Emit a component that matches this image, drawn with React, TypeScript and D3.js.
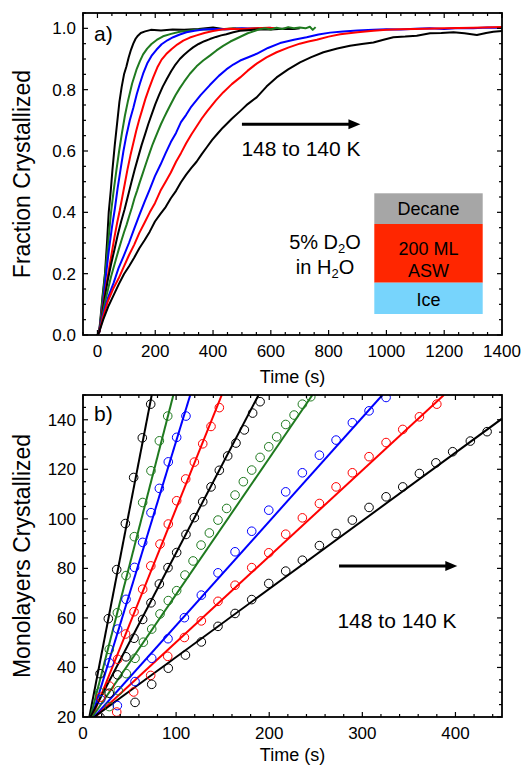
import React from "react";
import * as d3 from "d3";

// ---- Panel a: fraction crystallized vs time, nine runs (148 K → 140 K) ----
const fracRun1: [number, number][] = [
  [0, 0], [6, 0.01], [12, 0.07], [18, 0.13], [26, 0.2], [33, 0.3], [39, 0.4], [46, 0.47],
  [52, 0.54], [60, 0.62], [68, 0.69], [76, 0.76], [84, 0.81], [92, 0.85], [100, 0.875],
  [108, 0.905], [116, 0.93], [124, 0.95], [132, 0.966], [140, 0.976], [150, 0.985],
  [165, 0.99], [185, 0.995], [220, 0.993], [260, 0.996], [300, 0.995], [350, 0.998],
  [400, 1.003], [440, 0.997], [480, 0.999],
];
const fracRun2: [number, number][] = [
  [0, 0], [6, 0.01], [12, 0.06], [18, 0.12], [27, 0.2], [37, 0.3], [47, 0.4], [56, 0.47],
  [66, 0.54], [75, 0.6], [85, 0.66], [95, 0.715], [106, 0.765], [120, 0.82], [135, 0.865],
  [147, 0.893], [158, 0.915], [172, 0.934], [187, 0.949], [205, 0.962], [227, 0.974],
  [255, 0.982], [285, 0.989], [315, 0.992], [343, 0.995], [380, 0.997], [420, 0.996],
  [470, 1.0], [520, 0.998], [560, 1.001],
];
const fracRun3: [number, number][] = [
  [0, 0], [6, 0.01], [13, 0.06], [20, 0.11], [30, 0.2], [40, 0.28], [50, 0.35], [60, 0.41],
  [70, 0.48], [80, 0.54], [90, 0.6], [100, 0.65], [112, 0.7], [124, 0.74], [136, 0.785],
  [147, 0.82], [158, 0.852], [172, 0.885], [187, 0.91], [204, 0.93], [222, 0.948],
  [242, 0.961], [262, 0.971], [285, 0.98], [308, 0.987], [336, 0.992], [366, 0.996],
  [400, 0.998], [450, 0.997], [500, 1.0], [550, 0.999], [600, 1.002],
];
const fracRun4: [number, number][] = [
  [0, 0], [6, 0.01], [14, 0.06], [22, 0.11], [32, 0.17], [41, 0.22], [50, 0.27], [59, 0.32],
  [68, 0.365], [77, 0.405], [86, 0.45], [95, 0.495], [104, 0.54], [114, 0.585], [124, 0.625],
  [134, 0.665], [144, 0.7], [155, 0.735], [166, 0.77], [179, 0.805], [193, 0.84],
  [207, 0.872], [222, 0.898], [238, 0.916], [256, 0.932], [276, 0.947], [297, 0.96],
  [320, 0.97], [343, 0.977], [370, 0.985], [400, 0.991], [430, 0.996], [458, 0.999],
  [500, 0.998], [550, 1.0], [590, 1.002], [620, 1.0],
];
const fracRun5: [number, number][] = [
  [0, 0], [6, 0.01], [15, 0.06], [25, 0.12], [36, 0.18], [47, 0.23], [58, 0.275], [70, 0.325],
  [82, 0.37], [94, 0.41], [106, 0.455], [118, 0.5], [129, 0.54], [141, 0.58], [153, 0.62],
  [165, 0.655], [176, 0.688], [188, 0.72], [200, 0.752], [213, 0.782], [226, 0.81],
  [240, 0.835], [255, 0.86], [270, 0.882], [285, 0.9], [300, 0.914], [316, 0.927],
  [331, 0.938], [350, 0.949], [370, 0.958], [389, 0.965], [410, 0.972], [428, 0.977],
  [446, 0.981], [470, 0.987], [493, 0.992], [520, 0.994], [560, 0.997], [600, 0.996],
  [640, 0.999], [680, 0.998], [700, 1.0],
];
const fracRun6: [number, number][] = [
  [0, 0], [6, 0.01], [16, 0.06], [28, 0.115], [38, 0.155], [47, 0.19], [56, 0.22], [65, 0.25],
  [74, 0.28], [83, 0.308], [92, 0.335], [101, 0.36], [110, 0.388], [119, 0.415], [128, 0.445],
  [137, 0.47], [146, 0.497], [155, 0.522], [164, 0.548], [173, 0.573], [182, 0.598],
  [191, 0.622], [200, 0.643], [210, 0.666], [220, 0.688], [230, 0.708], [240, 0.727],
  [255, 0.755], [270, 0.782], [285, 0.805], [300, 0.826], [320, 0.852], [343, 0.876],
  [366, 0.895], [389, 0.911], [412, 0.928], [435, 0.943], [460, 0.957], [480, 0.966],
  [500, 0.975], [520, 0.984], [540, 0.99], [560, 0.997], [580, 1.0], [600, 0.996],
  [620, 1.002], [640, 0.998], [660, 1.004], [680, 1.0], [700, 1.003], [720, 1.0],
  [735, 1.005], [745, 0.995], [755, 1.004],
];
const fracRun7: [number, number][] = [
  [0, 0], [6, 0.01], [18, 0.06], [28, 0.095], [37, 0.123], [56, 0.17], [73, 0.218], [91, 0.258],
  [109, 0.3], [127, 0.346], [145, 0.391], [163, 0.434], [181, 0.475], [199, 0.518],
  [218, 0.555], [236, 0.593], [254, 0.629], [272, 0.659], [289, 0.694], [307, 0.718],
  [325, 0.745], [357, 0.782], [389, 0.815], [420, 0.845], [446, 0.866], [470, 0.882],
  [494, 0.895], [520, 0.905], [551, 0.917], [590, 0.936], [632, 0.952], [680, 0.963],
  [724, 0.971], [765, 0.98], [805, 0.986], [850, 0.99], [900, 0.993], [955, 0.995],
  [1000, 0.997], [1050, 0.996], [1100, 0.999], [1150, 1.0], [1200, 0.998], [1250, 1.001],
  [1300, 1.0], [1350, 1.003], [1400, 1.002],
];
const fracRun8: [number, number][] = [
  [0, 0], [6, 0.01], [20, 0.06], [36, 0.11], [54, 0.15], [73, 0.184], [91, 0.222], [109, 0.26],
  [127, 0.294], [145, 0.333], [163, 0.366], [181, 0.4], [199, 0.43], [218, 0.47], [236, 0.5],
  [254, 0.53], [272, 0.565], [289, 0.593], [307, 0.625], [325, 0.654], [343, 0.68],
  [361, 0.706], [380, 0.73], [410, 0.765], [435, 0.791], [465, 0.818], [494, 0.84],
  [520, 0.862], [551, 0.885], [585, 0.905], [620, 0.922], [660, 0.937], [700, 0.95],
  [730, 0.957], [759, 0.963], [800, 0.973], [840, 0.981], [900, 0.987], [955, 0.992],
  [1000, 0.995], [1050, 0.997], [1100, 0.998], [1200, 1.0], [1300, 1.002], [1400, 1.004],
];
const fracRun9: [number, number][] = [
  [0, 0], [6, 0.01], [20, 0.05], [37, 0.092], [56, 0.13], [74, 0.166], [92, 0.199], [110, 0.225],
  [127, 0.252], [145, 0.283], [163, 0.309], [181, 0.337], [199, 0.37], [218, 0.395],
  [236, 0.417], [254, 0.446], [272, 0.47], [289, 0.498], [307, 0.523], [325, 0.545],
  [343, 0.565], [361, 0.59], [379, 0.613], [397, 0.636], [416, 0.657], [434, 0.676],
  [465, 0.705], [494, 0.73], [520, 0.753], [551, 0.775], [585, 0.81], [620, 0.84],
  [660, 0.866], [701, 0.889], [740, 0.906], [782, 0.922], [830, 0.934], [874, 0.943],
  [915, 0.949], [955, 0.954], [990, 0.963], [1024, 0.971], [1065, 0.973], [1105, 0.976],
  [1151, 0.984], [1190, 0.985], [1232, 0.987], [1270, 0.984], [1313, 0.978], [1345, 0.985],
  [1370, 0.989], [1400, 0.991],
];
const fracRuns = [fracRun1, fracRun2, fracRun3, fracRun4, fracRun5, fracRun6, fracRun7, fracRun8, fracRun9];

// ---- Panel b: monolayers crystallized (points) and linear fits ----
const mlRun1: [number, number][] = [
  [18.3, 37.5], [27.2, 59.7], [36.2, 79.5], [45.5, 98.1], [54.4, 116.7], [63.7, 132.7], [72.7, 146.3],
];
const mlRun2: [number, number][] = [
  [18, 30], [28.2, 47.3], [36.9, 62.1], [46.2, 77.1], [55.1, 92.8], [64.1, 106.6], [73, 119.4],
  [82, 131.5], [91, 141.5],
];
const mlRun3: [number, number][] = [
  [19, 27], [28.2, 41.9], [37.2, 55.5], [46.2, 67.5], [55.4, 80.4], [64.1, 90.5], [73, 102.5],
  [82, 112.3], [91.6, 123], [100.6, 132.9], [110.6, 141.5],
];
const mlRun4: [number, number][] = [
  [19, 28], [28.5, 32.5], [37.2, 43.3], [45.7, 53.5], [54.8, 62.5], [64.1, 71.6], [72.8, 81],
  [82.7, 89.8], [91.6, 97.9], [100.6, 107.3], [110.3, 116.1], [119.6, 122.9], [128.6, 130.3],
  [137.5, 137.3], [146.4, 144.9],
];
const mlRun5: [number, number][] = [
  [28.2, 29.6], [37.2, 37], [46.2, 44.3], [54.8, 51.8], [64.1, 59.4], [73, 66.1], [82, 73.7],
  [91.3, 80.3], [100.6, 86.4], [110.6, 93.7], [119.6, 100.5], [128.6, 106.9], [137.5, 112.9],
  [146.4, 119.6], [155.4, 125.4], [164.3, 130.6], [173.3, 135.9], [182.2, 142.7], [190.2, 147.3],
];
const mlRun6: [number, number][] = [
  [28.2, 24.2], [37.9, 30.6], [46.5, 37.5], [55.9, 43.7], [64.8, 50.2], [73.8, 55.5], [82.7, 61.6],
  [91.6, 67], [100.6, 71], [109.5, 77.3], [118.2, 83], [126.8, 89.4], [135.7, 94.3], [145, 99.5],
  [154.3, 104.2], [163.3, 109.6], [172.2, 115], [181.2, 119.7], [190.2, 124.8], [199.5, 129.1],
  [208, 133.1], [217.7, 138.1], [226.7, 141.9], [235.6, 146.3], [244.6, 149.3],
];
const mlRun7: [number, number][] = [
  [36.9, 24.6], [55.9, 34.3], [73.8, 43.7], [91.3, 51.6], [108.9, 60.1], [127.1, 69.2], [145, 78.2],
  [163.3, 86.7], [181.2, 95], [199.5, 103.5], [217.7, 110.9], [235.6, 118.6], [253.9, 125.7],
  [271.8, 131.8], [289.3, 138.8], [307.2, 143.6], [325.5, 149],
];
const mlRun8: [number, number][] = [
  [36.2, 22], [54.4, 30.1], [72.7, 36.8], [91, 44.5], [108.9, 52.1], [127.1, 58.8], [145, 66.7],
  [163.3, 73.2], [181.2, 80.3], [199.5, 86.3], [217.7, 93.8], [235.6, 100.4], [253.9, 106.2],
  [271.8, 112.9], [289.3, 118.6], [307.2, 125.1], [325.5, 130.8], [343.4, 136.1], [361.3, 141.2],
  [380, 146.3],
];
const mlRun9: [number, number][] = [
  [18.3, 19.9], [55.9, 25.9], [73.8, 33.2], [91.6, 39.7], [110, 45], [127.1, 50.3], [145, 56.6],
  [163.3, 61.8], [181.2, 67.4], [199.5, 73.9], [217.7, 78.9], [235.6, 83.3], [253.9, 89.2],
  [271.8, 94.1], [289.3, 99.5], [307.2, 104.6], [325.5, 108.9], [343.4, 112.9], [361.3, 118.3],
  [379, 122.6], [397, 127.1], [416, 131.4], [434, 135.2],
];
const mlRuns = [mlRun1, mlRun2, mlRun3, mlRun4, mlRun5, mlRun6, mlRun7, mlRun8, mlRun9];

// Linear fits: time at which 20 ML is reached, and growth rate (ML/s)
const fitOnset = [6.8, 8, 9.5, 10, 8, 10, 12, 13, 12];
const fitRate = [1.94, 1.46, 1.23, 0.935, 0.72, 0.55, 0.42, 0.347, 0.275];

// Axis tick values
const aXMajor = [0, 200, 400, 600, 800, 1000, 1200, 1400];
const aYMajor = [0, 0.2, 0.4, 0.6, 0.8, 1.0];
const bXMajor = [0, 100, 200, 300, 400];
const bYMajor = [20, 40, 60, 80, 100, 120, 140];

const palette = ["#000000", "#1f7a1f", "#0000ff", "#ff0000", "#000000", "#1f7a1f", "#0000ff", "#ff0000", "#000000"];
const FONT = "'Liberation Sans', Arial, Helvetica, sans-serif";

const frameL = 83, frameR = 502;
const aTop = 13, aBot = 335;
const bTop = 395, bBot = 717;

const xA = d3.scaleLinear().domain([-50, 1400]).range([frameL, frameR]);
const yA = d3.scaleLinear().domain([0, 1.05]).range([aBot, aTop]);
const xB = d3.scaleLinear().domain([0, 450]).range([frameL, frameR]);
const yB = d3.scaleLinear().domain([20, 150]).range([bBot, bTop]);

function Ticks({ x, y, xMinor, xMajor, yMinor, yMajor }: any) {
  const [x0, x1] = x.range();
  const [y0, y1] = y.range(); // y0 bottom, y1 top
  const out: JSX.Element[] = [];
  const maj = 5, min = 3;
  xMinor.forEach((v: number, i: number) => {
    const px = x(v);
    const L = xMajor.includes(v) ? maj : min;
    out.push(<line key={"xb" + i} x1={px} x2={px} y1={y0} y2={y0 - L} />);
    out.push(<line key={"xt" + i} x1={px} x2={px} y1={y1} y2={y1 + L} />);
  });
  yMinor.forEach((v: number, i: number) => {
    const py = y(v);
    const L = yMajor.some((m: number) => Math.abs(m - v) < 1e-6) ? maj : min;
    out.push(<line key={"yl" + i} x1={x0} x2={x0 + L} y1={py} y2={py} />);
    out.push(<line key={"yr" + i} x1={x1} x2={x1 - L} y1={py} y2={py} />);
  });
  return <g stroke="#000" strokeWidth={1.2}>{out}</g>;
}

function Arrow({ x1, x2, y }: { x1: number; x2: number; y: number }) {
  return (
    <g>
      <line x1={x1} x2={x2 - 9} y1={y} y2={y} stroke="#000" strokeWidth={3} />
      <path d={`M${x2},${y} L${x2 - 12},${y - 5} L${x2 - 12},${y + 5} Z`} fill="#000" />
    </g>
  );
}

export default function App() {
  const lineA = d3.line<[number, number]>().x((d) => xA(d[0])).y((d) => yA(d[1]));
  const aXMinor = d3.range(-50, 1401, 50);
  const aYMinor = d3.range(0, 1.051, 0.05).map((v) => +v.toFixed(2));
  const bXMinor = d3.range(0, 451, 20);
  const bYMinor = d3.range(20, 151, 5);

  return (
    <svg
      width={526}
      height={768}
      style={{ position: "absolute", left: 0, top: 0, background: "#fff" }}
      fontFamily={FONT}
    >
      <defs>
        <clipPath id="clipA">
          <rect x={frameL} y={aTop} width={frameR - frameL} height={aBot - aTop} />
        </clipPath>
        <clipPath id="clipB">
          <rect x={frameL} y={bTop} width={frameR - frameL} height={bBot - bTop} />
        </clipPath>
      </defs>

      {/* Panel a */}
      <g clipPath="url(#clipA)">
        {fracRuns.map((run, i) => (
          <path key={i} d={lineA(run) || ""} fill="none" stroke={palette[i]} strokeWidth={2} strokeLinejoin="round" />
        ))}
      </g>
      <Ticks x={xA} y={yA} xMinor={aXMinor} xMajor={aXMajor} yMinor={aYMinor} yMajor={aYMajor} />
      <rect x={frameL} y={aTop} width={frameR - frameL} height={aBot - aTop} fill="none" stroke="#000" strokeWidth={1.8} />
      {aXMajor.map((v) => (
        <text key={v} x={xA(v)} y={357} fontSize={17} textAnchor="middle">{v}</text>
      ))}
      {aYMajor.map((v) => (
        <text key={v} x={76} y={yA(v) + 6} fontSize={17} textAnchor="end">{v.toFixed(1)}</text>
      ))}
      <text x={(frameL + frameR) / 2} y={383} fontSize={18} textAnchor="middle">Time (s)</text>
      <text transform={`translate(30,${(aTop + aBot) / 2}) rotate(-90)`} fontSize={23} textAnchor="middle">Fraction Crystallized</text>
      <text x={94} y={41} fontSize={21}>a)</text>
      <Arrow x1={xA(500)} x2={xA(910)} y={yA(0.687)} />
      <text x={301} y={156} fontSize={21} textAnchor="middle">148 to 140 K</text>

      {/* layer stack sketch */}
      <rect x={374.3} y={193.3} width={108.4} height={30.7} fill="#a6a6a6" />
      <rect x={374.3} y={224} width={108.4} height={58.7} fill="#ff2600" />
      <rect x={374.3} y={282.7} width={108.4} height={31.3} fill="#77d4fc" />
      <text x={428.5} y={215} fontSize={18} textAnchor="middle">Decane</text>
      <text x={428.5} y={255} fontSize={18} textAnchor="middle">200 ML</text>
      <text x={428.5} y={276.5} fontSize={18} textAnchor="middle">ASW</text>
      <text x={428.5} y={306} fontSize={18} textAnchor="middle">Ice</text>
      <text x={325} y={249} fontSize={20} textAnchor="middle">
        5% D<tspan fontSize={13} dy={3.5}>2</tspan><tspan dy={-3.5}>O</tspan>
      </text>
      <text x={325} y={274} fontSize={20} textAnchor="middle">
        in H<tspan fontSize={13} dy={3.5}>2</tspan><tspan dy={-3.5}>O</tspan>
      </text>

      {/* Panel b */}
      <g clipPath="url(#clipB)">
        {fitOnset.map((t0, i) => {
          const tEnd = Math.min(450, t0 + (150 - 20) / fitRate[i]);
          const mEnd = 20 + fitRate[i] * (tEnd - t0);
          return (
            <line key={"f" + i} x1={xB(t0)} y1={yB(20)} x2={xB(tEnd)} y2={yB(mEnd)} stroke={palette[i]} strokeWidth={2} />
          );
        })}
        {mlRuns.map((run, i) =>
          run.map((d, j) => (
            <circle key={i + "-" + j} cx={xB(d[0])} cy={yB(d[1])} r={4.3} fill="none" stroke={palette[i]} strokeWidth={1} />
          ))
        )}
      </g>
      <Ticks x={xB} y={yB} xMinor={bXMinor} xMajor={bXMajor} yMinor={bYMinor} yMajor={bYMajor} />
      <rect x={frameL} y={bTop} width={frameR - frameL} height={bBot - bTop} fill="none" stroke="#000" strokeWidth={1.8} />
      {bXMajor.map((v) => (
        <text key={v} x={xB(v)} y={738.5} fontSize={17} textAnchor="middle">{v}</text>
      ))}
      {bYMajor.map((v) => (
        <text key={v} x={76} y={yB(v) + 6} fontSize={17} textAnchor="end">{v}</text>
      ))}
      <text x={(frameL + frameR) / 2} y={761} fontSize={18} textAnchor="middle">Time (s)</text>
      <text transform={`translate(30,${(bTop + bBot) / 2}) rotate(-90)`} fontSize={23} textAnchor="middle">Monolayers Crystallized</text>
      <text x={94} y={421} fontSize={21}>b)</text>
      <Arrow x1={xB(275)} x2={xB(402)} y={yB(81)} />
      <text x={397} y={628} fontSize={21} textAnchor="middle">148 to 140 K</text>
    </svg>
  );
}
